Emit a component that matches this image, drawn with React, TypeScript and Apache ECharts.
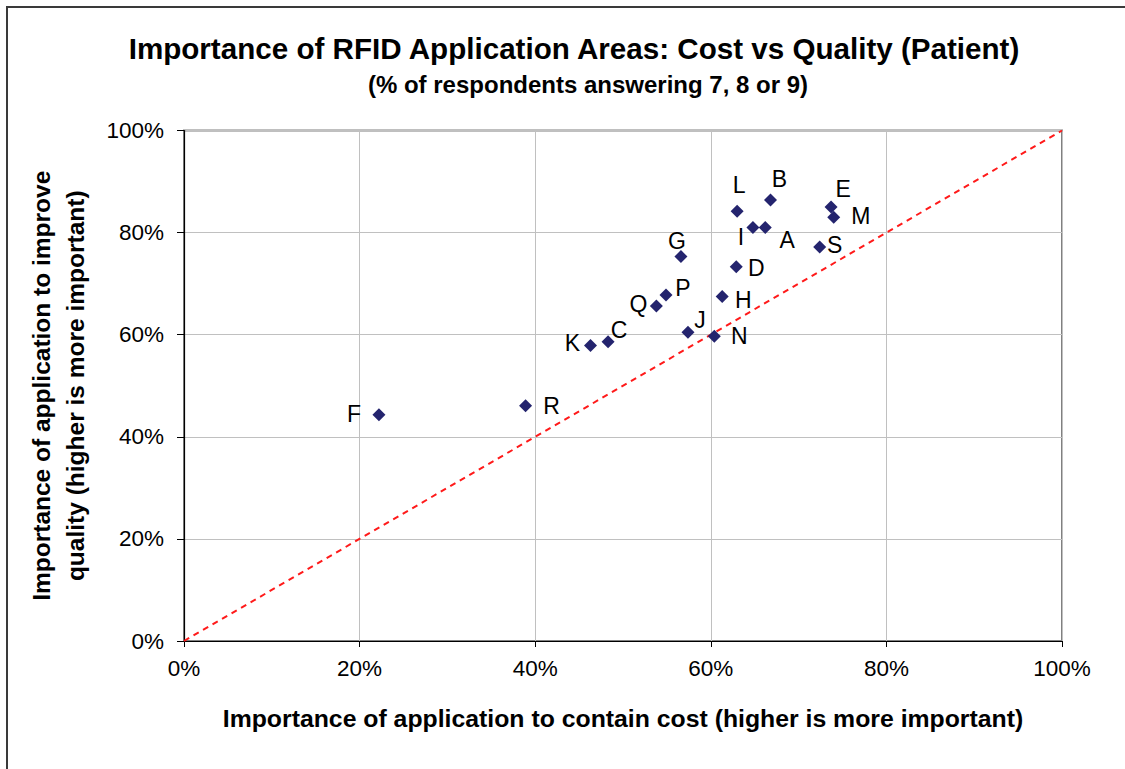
import React, { useEffect, useRef } from "react";
import * as echarts from "echarts";

const pointNames = ["A", "B", "C", "D", "E", "F", "G", "H", "I", "J", "K", "L", "M", "N", "P", "Q", "R", "S"];
const costValues = [66.2, 66.8, 48.3, 62.9, 73.7, 22.2, 56.6, 61.3, 64.8, 57.4, 46.3, 63.0, 74.0, 60.4, 54.9, 53.8, 38.9, 72.4];
const qualityValues = [81.0, 86.4, 58.6, 73.3, 85.0, 44.3, 75.3, 67.5, 81.0, 60.5, 57.9, 84.2, 83.0, 59.7, 67.8, 65.6, 46.1, 77.2];
const diagonalLine = [[0, 0], [100, 100]];
const tickValues = [0, 20, 40, 60, 80, 100];

const titleText = "Importance of RFID Application Areas: Cost vs Quality (Patient)";
const subtitleText = "(% of respondents answering 7, 8 or 9)";
const xAxisTitle = "Importance of application to contain cost (higher is more important)";
const yAxisTitle = "Importance of application to improve\nquality (higher is more important)";

// label offsets (styling) relative to marker centre
const labelOffsets: Record<string, [number, number]> = {
  A: [22, 13], B: [9, -21], C: [11, -12], D: [20, 1], E: [12, -18], F: [-25, -1],
  G: [-4, -16], H: [21, 4], I: [-12, 10], J: [12, -12], K: [-18, -2], L: [2, -26],
  M: [27, -1], N: [25, 0], P: [17, -7], Q: [-18, -2], R: [26, 0], S: [15, -2],
};

const FONT = "Arial, 'Liberation Sans', sans-serif";

export default function App() {
  const ref = useRef<HTMLDivElement>(null);
  useEffect(() => {
    if (!ref.current) return;
    const chart = echarts.init(ref.current, undefined, { renderer: "svg" });
    const points = pointNames.map((n, i) => ({
      name: n,
      value: [costValues[i], qualityValues[i]],
      label: { offset: labelOffsets[n] || [0, 0] },
    }));
    chart.setOption({
      animation: false,
      backgroundColor: "#ffffff",
      textStyle: { fontFamily: FONT },
      grid: {
        left: 184,
        top: 130.5,
        right: 63,
        bottom: 128,
        show: true,
        borderColor: "#808080",
        borderWidth: 2,
        backgroundColor: "transparent",
      },
      xAxis: {
        type: "value",
        min: 0,
        max: 100,
        interval: 20,
        name: xAxisTitle,
        nameLocation: "middle",
        nameGap: 65,
        nameTextStyle: { fontFamily: FONT, fontSize: 24.8, fontWeight: "bold", color: "#000" },
        axisLine: { show: true, onZero: false, lineStyle: { color: "#000", width: 1.2 } },
        axisTick: { show: true, inside: false, length: 6, lineStyle: { color: "#000" } },
        axisLabel: {
          fontFamily: FONT, fontSize: 22.5, color: "#000", margin: 16,
          formatter: (v: number) => (tickValues.includes(v) ? v + "%" : ""),
        },
        splitLine: { show: true, lineStyle: { color: "#c0c0c0", width: 1 } },
      },
      yAxis: {
        type: "value",
        min: 0,
        max: 100,
        interval: 20,
        name: yAxisTitle,
        nameLocation: "middle",
        nameRotate: 90,
        nameGap: 92,
        nameTextStyle: { fontFamily: FONT, fontSize: 24.5, fontWeight: "bold", color: "#000", lineHeight: 34, align: "center" },
        axisLine: { show: true, onZero: false, lineStyle: { color: "#000", width: 1.2 } },
        axisTick: { show: true, inside: false, length: 7, lineStyle: { color: "#000" } },
        axisLabel: {
          fontFamily: FONT, fontSize: 22.5, color: "#000", margin: 20,
          formatter: (v: number) => v + "%",
        },
        splitLine: { show: true, lineStyle: { color: "#c0c0c0", width: 1 } },
      },
      graphic: [
        {
          type: "rect",
          silent: true,
          shape: { x: 7, y: 7, width: 1300, height: 900 },
          style: { fill: "none", stroke: "#3a3a3a", lineWidth: 2 },
          z: 100,
        },
        {
          type: "text",
          x: 574,
          y: 48,
          style: {
            text: titleText, font: `bold 29.6px ${FONT}`, fill: "#000",
            textAlign: "center", textVerticalAlign: "middle",
          },
        },
        {
          type: "text",
          x: 588,
          y: 84,
          style: {
            text: subtitleText, font: `bold 24px ${FONT}`, fill: "#000",
            textAlign: "center", textVerticalAlign: "middle",
          },
        },
      ],
      series: [
        {
          type: "line",
          data: diagonalLine,
          symbol: "none",
          silent: true,
          lineStyle: { color: "#ff1a1a", width: 2, type: [6, 5] },
          z: 1,
        },
        {
          type: "scatter",
          data: points,
          symbol: "diamond",
          symbolSize: 13,
          itemStyle: { color: "#24246e", opacity: 1 },
          z: 3,
          label: {
            show: true,
            position: "inside",
            formatter: "{b}",
            fontFamily: FONT,
            fontSize: 23,
            color: "#000",
            align: "center",
            verticalAlign: "middle",
          },
        },
      ],
    });
    return () => chart.dispose();
  }, []);
  return <div ref={ref} style={{ position: "fixed", left: 0, top: 0, width: 1125, height: 769 }} />;
}
